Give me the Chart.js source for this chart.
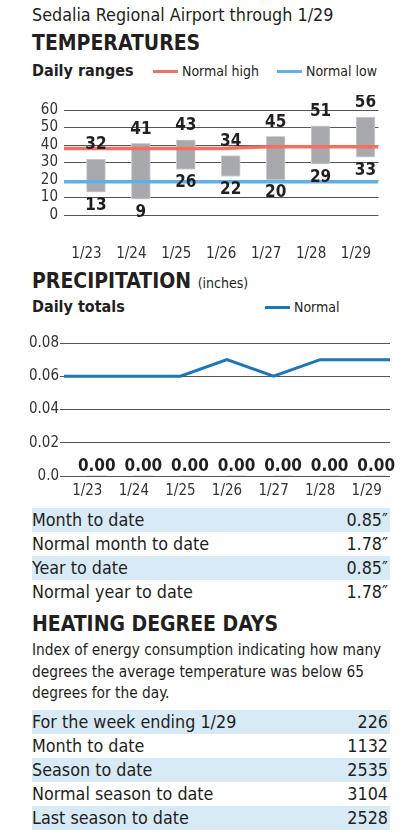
<!DOCTYPE html>
<html>
<head>
<meta charset="utf-8">
<script src="https://cdn.jsdelivr.net/npm/chart.js@4"></script>
<style>
  body { margin: 0; width: 402px; height: 837px; position: relative; background: #fff; color: #231f20;
         font-family: 'Liberation Sans Narrow', 'DejaVu Sans Condensed', Roboto, sans-serif; overflow: hidden; }
  .abs { position: absolute; left: 32px; white-space: nowrap; }
  .head { font-weight: bold; font-size: 21px; }
  .sub { font-weight: bold; font-size: 16px; }
  .leg { position: absolute; font-size: 14px; white-space: nowrap; }
  .leg i { display: inline-block; width: 25px; height: 3px; vertical-align: middle; margin-right: 4px; position: relative; top: -1px; }
  .row { position: absolute; left: 32px; width: 356px; height: 24px; line-height: 24px; font-size: 17.8px;
         display: flex; justify-content: space-between; padding-right: 2px; }
  .row.blue { background: #d9eaf7; }
  .wrap { position: absolute; left: 0; width: 402px; }
</style>
</head>
<body>
<div class="abs" style="top:4px; font-size:17.8px;">Sedalia Regional Airport through 1/29</div>
<div class="abs head" style="top:31px;">TEMPERATURES</div>
<div class="abs sub" style="top:61px;">Daily ranges</div>
<div class="leg" style="left:153px; top:63px;"><i style="background:#f36f5f"></i>Normal high</div>
<div class="leg" style="left:277px; top:63px;"><i style="background:#5fb0e6"></i>Normal low</div>
<div class="wrap" style="top:95px; height:165px;"><canvas id="tempChart"></canvas></div>

<div class="abs head" style="top:269px;">PRECIPITATION <span style="font-weight:normal; font-size:14px;">(inches)</span></div>
<div class="abs sub" style="top:297px;">Daily totals</div>
<div class="leg" style="left:265px; top:299px;"><i style="background:#1b77b9"></i>Normal</div>
<div class="wrap" style="top:330px; height:170px;"><canvas id="precipChart"></canvas></div>

<div id="precipTable"></div>

<div class="abs head" style="top:612px;">HEATING DEGREE DAYS</div>
<div class="abs" style="top:640px; font-size:15.3px; line-height:21.5px;">Index of energy consumption indicating how many<br>degrees the average temperature was below 65<br>degrees for the day.</div>
<div id="hddTable"></div>

<script>
const days = ["1/23", "1/24", "1/25", "1/26", "1/27", "1/28", "1/29"];
const highs = [32, 41, 43, 34, 45, 51, 56];
const lows = [13, 9, 26, 22, 20, 29, 33];
const normalHigh = [38, 38, 38, 38, 39, 39, 39];
const normalLow = [19, 19, 19, 19, 19, 19, 19];
const tempTicks = [0, 10, 20, 30, 40, 50, 60];

const precip = [0, 0, 0, 0, 0, 0, 0];
const normalPrecip = [0.06, 0.06, 0.06, 0.07, 0.06, 0.07, 0.07];
const precipTicks = [0, 0.02, 0.04, 0.06, 0.08];

const precipRows = ["Month to date", "Normal month to date", "Year to date", "Normal year to date"];
const precipVals = ["0.85\u2033", "1.78\u2033", "0.85\u2033", "1.78\u2033"];
const hddRows = ["For the week ending 1/29", "Month to date", "Season to date", "Normal season to date", "Last season to date"];
const hddVals = [226, 1132, 2535, 3104, 2528];

const FONT = "'Liberation Sans Narrow', 'DejaVu Sans Condensed', Roboto, sans-serif";
const INK = "#231f20";

// line across the full plot width: extend first/last value to the edges
function edgeLine(values) {
    const pts = values.map((v, i) => ({ x: i, y: v }));
    pts.unshift({ x: -0.5, y: values[0] });
    pts.push({ x: values.length - 0.5, y: values[values.length - 1] });
    return pts;
}

const barLabels = {
    id: "barLabels",
    afterDatasetsDraw(chart, args, opts) {
        const ctx = chart.ctx;
        const meta = chart.getDatasetMeta(opts.index);
        ctx.save();
        ctx.font = "bold 17px " + FONT;
        ctx.fillStyle = INK;
        ctx.textAlign = "center";
        ctx.textBaseline = "middle";
        meta.data.forEach((bar, i) => {
            const raw = chart.data.datasets[opts.index].data[i];
            if (Array.isArray(raw)) {
                ctx.fillText(String(raw[1]), bar.x, bar.y - 14);
                ctx.fillText(String(raw[0]), bar.x, bar.base + 13);
            } else {
                ctx.fillText(raw.toFixed(2), bar.x, bar.y - 9);
            }
        });
        ctx.restore();
    }
};

function yAxis(min, max, ticks, fmt, tickLen) {
    return {
        min, max,
        afterBuildTicks: s => { s.ticks = ticks.map(v => ({ value: v })); },
        afterFit: s => { s.width = 64; },
        border: { display: false },
        grid: { color: "#555", lineWidth: 1, drawTicks: tickLen > 0, tickLength: tickLen, tickColor: "#555" },
        ticks: { font: { family: FONT, size: 15 }, color: "#333", padding: tickLen > 0 ? 1 : 6,
                 autoSkip: false, callback: fmt }
    };
}

function xAxis(height, pad) {
    return {
        type: "category",
        offset: true,
        afterFit: s => { s.height = height; },
        border: { display: false },
        grid: { display: false, drawTicks: false },
        ticks: { font: { family: FONT, size: 15 }, color: "#333", padding: pad }
    };
}

const lineAxis = { type: "linear", display: false, offset: false, min: -0.5, max: days.length - 0.5 };

Chart.defaults.animation = false;

new Chart(document.getElementById("tempChart"), {
    type: "bar",
    data: {
        labels: days,
        datasets: [
            { type: "line", label: "Normal high", data: edgeLine(normalHigh), xAxisID: "xl", borderColor: "#f36f5f", borderWidth: 3.5, pointRadius: 0, order: 0 },
            { type: "line", label: "Normal low", data: edgeLine(normalLow), xAxisID: "xl", borderColor: "#5fb0e6", borderWidth: 3.5, pointRadius: 0, order: 0 },
            { label: "Daily range", data: days.map((d, i) => [lows[i], highs[i]]), xAxisID: "x",
              backgroundColor: "#a7a9ac", borderColor: "#d0d1d3", borderWidth: 1, borderSkipped: false, barThickness: 19, order: 1 }
        ]
    },
    options: {
        responsive: true,
        maintainAspectRatio: false,
        layout: { padding: { top: 12, right: 12, left: 0, bottom: 0 } },
        plugins: { legend: { display: false }, tooltip: { enabled: false }, barLabels: { index: 2 } },
        scales: {
            x: xAxis(45, 30),
            xl: lineAxis,
            y: yAxis(0, 60, tempTicks, v => v, 0)
        }
    },
    plugins: [barLabels]
});

new Chart(document.getElementById("precipChart"), {
    type: "bar",
    data: {
        labels: days,
        datasets: [
            { type: "line", label: "Normal", data: edgeLine(normalPrecip), xAxisID: "xl", borderColor: "#1b77b9", borderWidth: 3, pointRadius: 0, order: 0 },
            { label: "Daily totals", data: precip, xAxisID: "x", backgroundColor: "#a7a9ac", barThickness: 19, order: 1 }
        ]
    },
    options: {
        responsive: true,
        maintainAspectRatio: false,
        layout: { padding: { top: 13, right: 12, left: 0, bottom: 0 } },
        plugins: { legend: { display: false }, tooltip: { enabled: false }, barLabels: { index: 1 } },
        scales: {
            x: xAxis(24, 6),
            xl: lineAxis,
            y: yAxis(0, 0.08, precipTicks, v => (v === 0 ? "0.0" : v.toFixed(2)), 4)
        }
    },
    plugins: [barLabels]
});

function table(el, top, names, vals) {
    names.forEach((n, i) => {
        const r = document.createElement("div");
        r.className = "row" + (i % 2 === 0 ? " blue" : "");
        r.style.top = (top + i * 24) + "px";
        r.innerHTML = "<span>" + n + "</span><span>" + vals[i] + "</span>";
        document.getElementById(el).appendChild(r);
    });
}
table("precipTable", 508, precipRows, precipVals);
table("hddTable", 710, hddRows, hddVals);
</script>
</body>
</html>
